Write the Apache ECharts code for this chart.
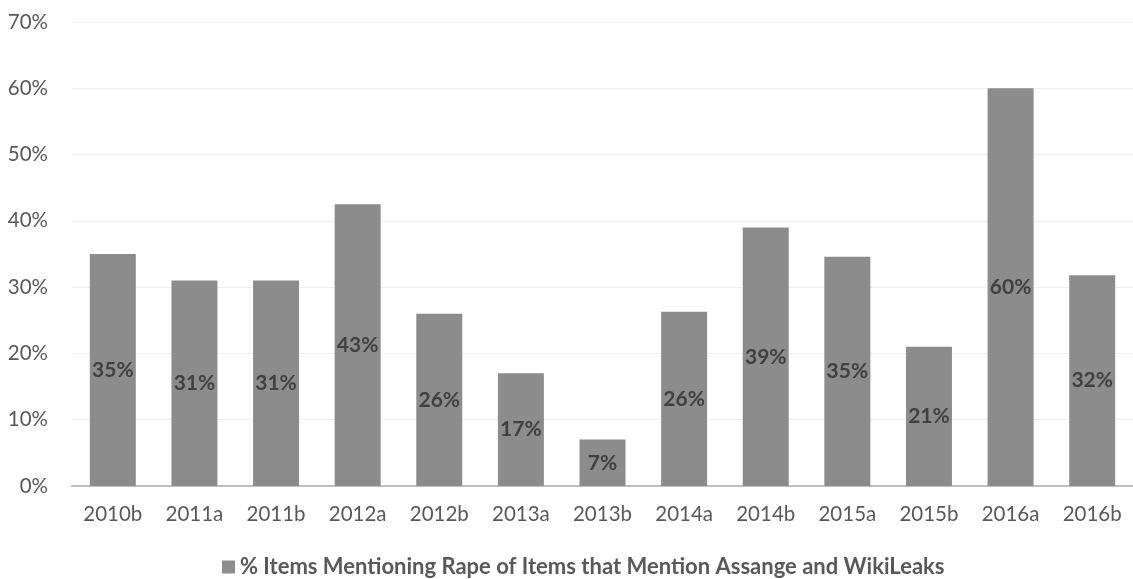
<!DOCTYPE html>
<html>
<head>
<meta charset="utf-8">
<script src="https://cdn.jsdelivr.net/npm/echarts@6/dist/echarts.min.js"></script>
<style>html,body{margin:0;padding:0;background:#fff;}#c{width:1133px;height:579px;}</style>
</head>
<body>
<div id="c"></div>
<script>
var categories = ['2010b','2011a','2011b','2012a','2012b','2013a','2013b','2014a','2014b','2015a','2015b','2016a','2016b'];
var values = [35, 31, 31, 42.5, 26, 17, 7, 26.3, 39, 34.6, 21, 60, 31.8];
var yTicks = [0, 10, 20, 30, 40, 50, 60, 70];
var seriesName = '% Items Mentioning Rape of Items that Mention Assange and WikiLeaks';

var chart = echarts.init(document.getElementById('c'), null, {renderer: 'canvas'});
chart.setOption({
  animation: false,
  backgroundColor: '#ffffff',
  grid: {left: 72, width: 1069, top: 22, bottom: 93, containLabel: false},
  legend: {
    show: true,
    left: 222,
    top: 556,
    padding: 0,
    icon: 'rect',
    itemWidth: 13,
    itemHeight: 13,
    textStyle: {fontFamily: 'Lato', fontSize: 22, fontWeight: 'bold', color: '#595959'},
    data: [seriesName]
  },
  xAxis: {
    type: 'category',
    data: categories,
    axisLine: {lineStyle: {color: '#bfbfbf', width: 2}},
    axisTick: {show: false},
    axisLabel: {fontFamily: 'Lato', fontSize: 20.5, color: '#595959', margin: 18}
  },
  yAxis: {
    type: 'value',
    min: yTicks[0],
    max: yTicks[yTicks.length - 1],
    interval: 10,
    axisLine: {show: false},
    axisTick: {show: false},
    splitLine: {lineStyle: {color: '#efefef', width: 1}},
    axisLabel: {fontFamily: 'Lato', fontSize: 20.5, color: '#595959', margin: 24, formatter: '{value}%'}
  },
  series: [{
    name: seriesName,
    type: 'bar',
    data: values,
    barWidth: 46,
    itemStyle: {color: '#8c8c8c'},
    label: {
      show: true,
      position: 'inside',
      fontFamily: 'Lato',
      fontSize: 21,
      fontWeight: 'bold',
      color: '#404040',
      formatter: function (p) { return Math.round(p.value) + '%'; }
    }
  }]
});
</script>
</body>
</html>
